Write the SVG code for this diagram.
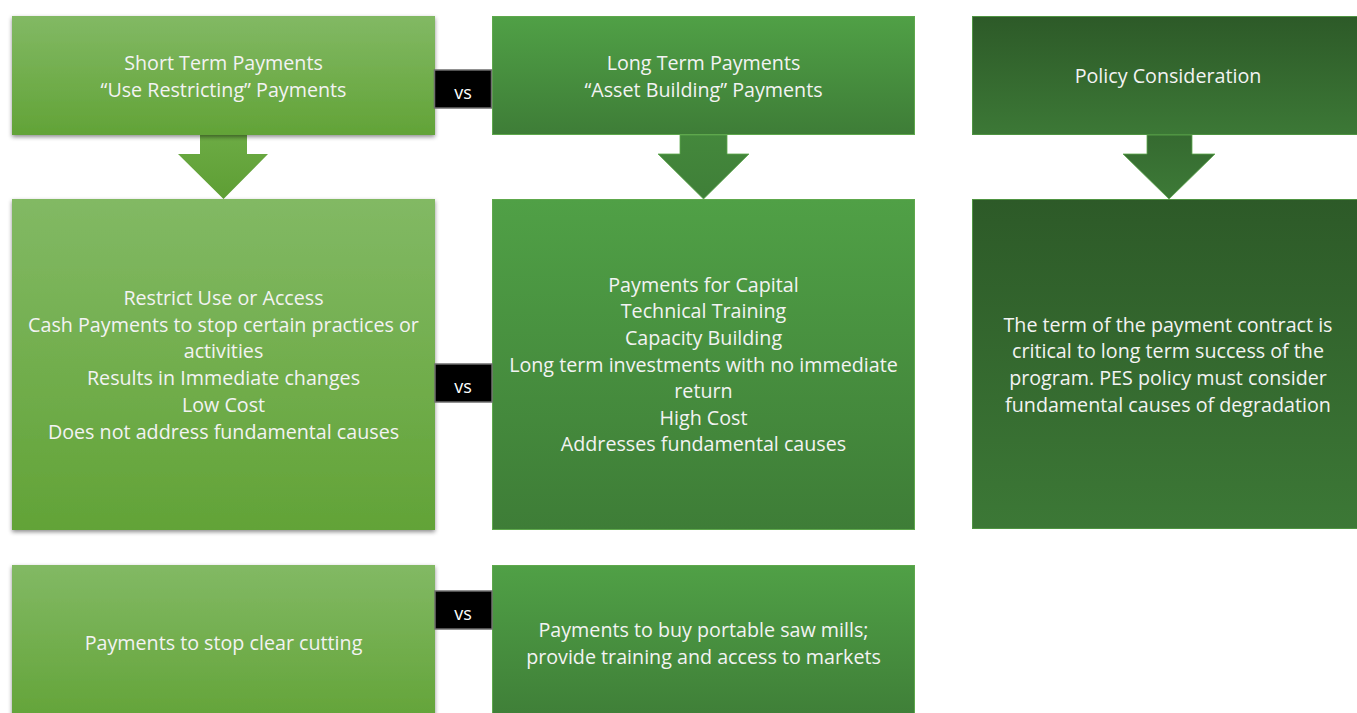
<svg xmlns="http://www.w3.org/2000/svg" width="1357" height="713" viewBox="0 0 1357 713">
  <defs>
    <linearGradient id="g1" x1="0" y1="0" x2="0" y2="1">
      <stop offset="0" stop-color="#82b964"/>
      <stop offset="1" stop-color="#62a337"/>
    </linearGradient>
    <linearGradient id="g2" x1="0" y1="0" x2="0" y2="1">
      <stop offset="0" stop-color="#50a046"/>
      <stop offset="1" stop-color="#3e7d37"/>
    </linearGradient>
    <linearGradient id="g3" x1="0" y1="0" x2="0" y2="1">
      <stop offset="0" stop-color="#2d5a28"/>
      <stop offset="1" stop-color="#3c7836"/>
    </linearGradient>
    <linearGradient id="a1" x1="0" y1="0" x2="0" y2="1">
      <stop offset="0" stop-color="#6cab44"/>
      <stop offset="1" stop-color="#5e9e34"/>
    </linearGradient>
    <linearGradient id="a2" x1="0" y1="0" x2="0" y2="1">
      <stop offset="0" stop-color="#44883c"/>
      <stop offset="1" stop-color="#3f7f38"/>
    </linearGradient>
    <linearGradient id="a3" x1="0" y1="0" x2="0" y2="1">
      <stop offset="0" stop-color="#356a30"/>
      <stop offset="1" stop-color="#3d7a37"/>
    </linearGradient>
    <filter id="sh" x="-5%" y="-5%" width="110%" height="115%">
      <feDropShadow dx="0" dy="2" stdDeviation="2" flood-color="#000" flood-opacity="0.45"/>
    </filter>
  </defs>
  <style>
    text { font-family: "Open Sans", "Noto Sans", "DejaVu Sans", sans-serif; font-size: 19.7px; fill: #f3f3f3; text-anchor: middle; }
    .c1 { fill: url(#g1); filter: url(#sh); }
    .c2 { fill: url(#g2); stroke: #5ea84c; stroke-width: 1; }
    .c3 { fill: url(#g3); stroke: #4f9442; stroke-width: 1; }
    .vs { fill: #000; stroke: #6e6e6e; stroke-width: 1.5; }
    .vst { font-size: 18px; fill: #ffffff; }
  </style>
  <rect width="1357" height="713" fill="#ffffff"/>

  <g id="connectors">
    <path d="M200,135 H247 V154 H268 L223.5,199 L178,154 H200 Z" fill="url(#a1)"/>
    <path d="M680,135 H727 V154 H749 L703.5,199 L658,154 H680 Z" fill="url(#a2)" stroke="#5ea84c" stroke-width="0.8"/>
    <path d="M1147,135 H1192 V154 H1215 L1169,199 L1123,154 H1147 Z" fill="url(#a3)" stroke="#5ea84c" stroke-width="0.8"/>
  </g>

  <g id="short-term">
    <rect class="c1" x="12" y="16" width="423" height="119"/>
    <text x="223.5" y="70">Short Term Payments</text>
    <text x="223.5" y="97">“Use Restricting” Payments</text>
  </g>
  <g id="long-term">
    <rect class="c2" x="492.5" y="16.5" width="422" height="118"/>
    <text x="703.5" y="70">Long Term Payments</text>
    <text x="703.5" y="97">“Asset Building” Payments</text>
  </g>
  <g id="policy">
    <rect class="c3" x="972.5" y="16.5" width="392" height="118"/>
    <text x="1168" y="83">Policy Consideration</text>
  </g>

  <g id="short-term-details">
    <rect class="c1" x="12" y="199" width="423" height="331"/>
    <text x="223.5" y="305">Restrict Use or Access</text>
    <text x="223.5" y="332">Cash Payments to stop certain practices or</text>
    <text x="223.5" y="358">activities</text>
    <text x="223.5" y="385">Results in Immediate changes</text>
    <text x="223.5" y="412">Low Cost</text>
    <text x="223.5" y="439">Does not address fundamental causes</text>
  </g>
  <g id="long-term-details">
    <rect class="c2" x="492.5" y="199.5" width="422" height="330"/>
    <text x="703.5" y="292">Payments for Capital</text>
    <text x="703.5" y="318">Technical Training</text>
    <text x="703.5" y="345">Capacity Building</text>
    <text x="703.5" y="372">Long term investments with no immediate</text>
    <text x="703.5" y="398">return</text>
    <text x="703.5" y="425">High Cost</text>
    <text x="703.5" y="451">Addresses fundamental causes</text>
  </g>
  <g id="policy-details">
    <rect class="c3" x="972.5" y="199.5" width="392" height="329"/>
    <text x="1168" y="332">The term of the payment contract is</text>
    <text x="1168" y="358">critical to long term success of the</text>
    <text x="1168" y="385">program. PES policy must consider</text>
    <text x="1168" y="412">fundamental causes of degradation</text>
  </g>

  <g id="short-term-example">
    <rect class="c1" x="12" y="565" width="423" height="160"/>
    <text x="223.5" y="650">Payments to stop clear cutting</text>
  </g>
  <g id="long-term-example">
    <rect class="c2" x="492.5" y="565.5" width="422" height="160"/>
    <text x="703.5" y="637">Payments to buy portable saw mills;</text>
    <text x="703.5" y="664">provide training and access to markets</text>
  </g>

  <g id="vs-top">
    <rect class="vs" x="434.5" y="70" width="57" height="38"/>
    <text class="vst" x="463" y="99">vs</text>
  </g>
  <g id="vs-middle">
    <rect class="vs" x="435" y="364" width="57" height="38"/>
    <text class="vst" x="463" y="393">vs</text>
  </g>
  <g id="vs-bottom">
    <rect class="vs" x="435" y="591" width="57" height="38"/>
    <text class="vst" x="463" y="620">vs</text>
  </g>
</svg>
